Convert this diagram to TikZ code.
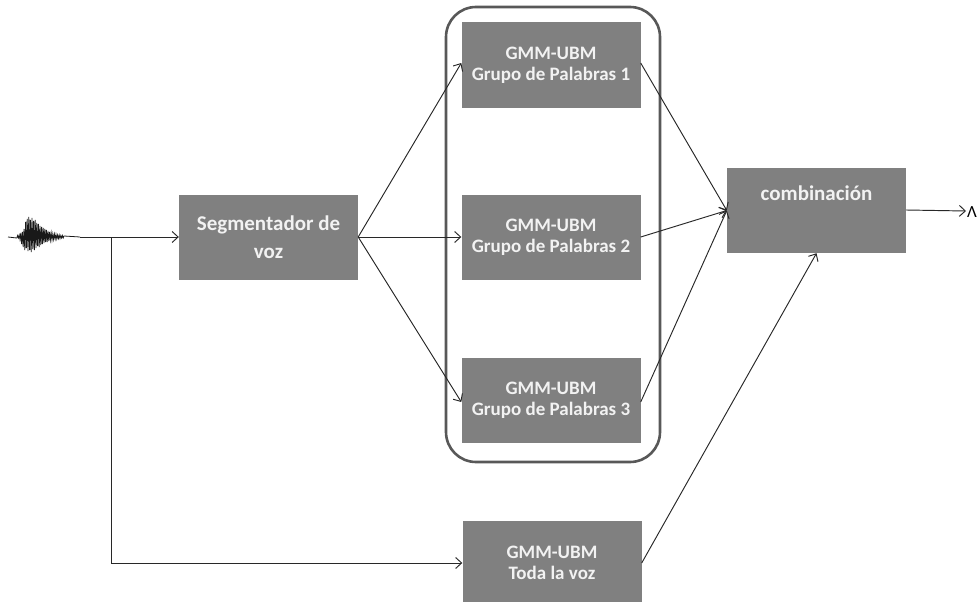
\documentclass[tikz,border=0pt]{standalone}
\usepackage{fontspec}
\setmainfont{Carlito}
\usetikzlibrary{arrows.meta}
\definecolor{blockgray}{RGB}{128,128,128}
\definecolor{framegray}{RGB}{88,88,88}
\definecolor{labelwhite}{RGB}{242,242,242}
\definecolor{wire}{RGB}{40,40,40}
\begin{document}
\begin{tikzpicture}[x=1pt,y=-1pt,
  block/.style={fill=blockgray, draw=none, minimum width=179pt, minimum height=85pt,
    text=labelwhite, align=center, inner sep=0pt},
  gmmfont/.style={font=\fontsize{19}{21}\selectfont\bfseries},
  bigfont/.style={font=\fontsize{21}{28}\selectfont\bfseries},
  conn/.style={draw=wire, line width=0.95pt, -{Straight Barb[length=6pt,width=11pt,line width=0.95pt]}},
  plainconn/.style={draw=wire, line width=0.95pt}]
\useasboundingbox (0,0) rectangle (980,602);
\begin{scope}
\clip (0,0) rectangle (980,602);

% group frame around the three word-group models
\draw[framegray, line width=2.6pt, rounded corners=30pt] (446,7) rectangle (660,462);

% blocks
\node[block, bigfont] (seg) at (268.5,237) {Segmentador de\\voz};
\node[block, gmmfont] (g1) at (551,65) {GMM-UBM\\Grupo de Palabras 1};
\node[block, gmmfont] (g2) at (551,237) {GMM-UBM\\Grupo de Palabras 2};
\node[block, gmmfont] (g3) at (551,400) {GMM-UBM\\Grupo de Palabras 3};
\node[block, gmmfont] (g4) at (552,563) {GMM-UBM\\Toda la voz};
\node[block, bigfont, minimum height=85pt] (comb) at (816.5,210.5) {combinación\\[6pt]};

% speech waveform
\draw[black!90, line width=0.8pt] (8,237)
  foreach \a [count=\i] in {1,1.5,1,2,2.5,4,7,5,10,8,13,15,11,18,14,20,13,17,15,19,12,16,13,17,11,14,9,13,10,11,8,10,7,9,6,8,5,7,5,6,4,5,3,4,3,3,2.5,3,2,2.5,2,2,1.5,2,1.5,1.5,1,1.5,1,1}
  { -- ({16+0.8*\i},{237+(2*mod(\i,2)-1)*\a}) } -- (80,237);
\coordinate (w) at (80,237);
\coordinate (branch) at (111,237);
\coordinate (out) at (966,211);

% connectors
\draw[conn] (w) -- (seg.west);
\draw[conn] (branch) |- (g4.west);
\draw[conn] (seg.east) -- ([yshift=2pt]g1.west);
\draw[conn] (seg.east) -- (g2.west);
\draw[conn] (seg.east) -- ([yshift=-2pt]g3.west);
\draw[conn] ([yshift=2pt]g1.east) -- (comb.west);
\draw[conn] (g2.east) -- (comb.west);
\draw[conn] ([yshift=-2pt]g3.east) -- (comb.west);
\draw[conn] (g4.east) -- (comb.south);
\draw[conn] ([yshift=0.5pt]comb.east) -- (out);
\node[anchor=west, inner sep=0pt, font=\fontsize{17}{17}\selectfont] (lam) at (967,212) {Λ};
\end{scope}
\end{tikzpicture}
\end{document}
